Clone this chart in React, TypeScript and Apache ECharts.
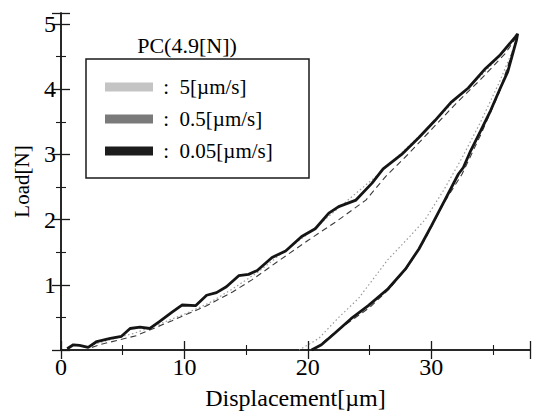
import React, { useEffect, useRef } from "react";
import * as echarts from "echarts";

const seriesNames = ["5[µm/s]", "0.5[µm/s]", "0.05[µm/s]"];
const legendTitle = "PC(4.9[N])";
const xName = "Displacement[µm]";
const yName = "Load[N]";

// 5 µm/s (dotted, light grey): loading then unloading
const fastCurve: [number, number][] = [
  [2.0, 0.05], [4.0, 0.16], [6.0, 0.26], [8.0, 0.4], [10.0, 0.55], [12.0, 0.72],
  [14.0, 0.95], [16.0, 1.2], [18.0, 1.5], [20.0, 1.78], [22.0, 2.1], [24.0, 2.42],
  [26.0, 2.74], [28.0, 3.1], [30.0, 3.45], [32.0, 3.85], [34.0, 4.2], [36.0, 4.6],
  [37.0, 4.85],
  [36.6, 4.6], [35.5, 4.1], [34.0, 3.5], [32.5, 2.95], [31.0, 2.45], [29.5, 2.0],
  [28.3, 1.75], [26.5, 1.39], [24.1, 0.79], [22.5, 0.5], [20.9, 0.18], [19.3, 0.0],
];

// 0.5 µm/s (dashed, dark grey)
const midCurve: [number, number][] = [
  [2.5, 0.04], [3.1, 0.08], [6.1, 0.22], [9.0, 0.45], [11.8, 0.68], [13.9, 0.89],
  [15.5, 1.08], [17.5, 1.35], [20.0, 1.68], [22.3, 1.97], [24.7, 2.3], [26.3, 2.66],
  [28.0, 2.98], [30.0, 3.38], [32.0, 3.78], [34.0, 4.15], [36.0, 4.55], [36.9, 4.8],
  [36.8, 4.7], [35.5, 3.95], [34.0, 3.3], [32.5, 2.7], [31.0, 2.25], [29.5, 1.7],
  [28.0, 1.25], [26.5, 0.92], [25.0, 0.65], [23.5, 0.45], [22.0, 0.24], [20.8, 0.05],
  [20.3, 0.0],
];

// 0.05 µm/s (solid, black)
const slowCurve: [number, number][] = [
  [0.5, 0.02], [1.0, 0.08], [1.5, 0.07], [2.2, 0.04], [2.9, 0.13], [4.0, 0.18],
  [4.9, 0.21], [5.6, 0.33], [6.4, 0.35], [7.2, 0.33], [8.0, 0.44], [9.0, 0.58],
  [9.8, 0.69], [10.9, 0.68], [11.8, 0.84], [12.6, 0.88], [13.4, 0.97], [14.4, 1.14],
  [15.2, 1.16], [15.9, 1.22], [17.1, 1.42], [18.2, 1.52], [19.5, 1.74], [20.6, 1.86],
  [21.7, 2.1], [22.5, 2.2], [23.9, 2.3], [25.2, 2.56], [26.1, 2.78], [27.6, 3.0],
  [29.0, 3.26], [30.3, 3.52], [31.6, 3.8], [33.0, 4.02], [34.4, 4.32], [35.6, 4.53],
  [36.8, 4.8], [37.0, 4.85],
  [36.9, 4.75], [36.2, 4.27], [35.6, 4.02], [34.8, 3.67], [34.0, 3.36], [33.2, 3.06],
  [32.6, 2.8], [32.2, 2.7], [31.1, 2.3], [30.0, 1.9], [29.0, 1.55], [27.9, 1.24],
  [26.5, 0.94], [24.9, 0.68], [23.5, 0.48], [22.2, 0.26], [21.1, 0.08], [20.3, 0.0],
];

const FONT = "Liberation Serif, Times New Roman, serif";

export default function App() {
  const ref = useRef<HTMLDivElement>(null);
  useEffect(() => {
    if (!ref.current) return;
    const chart = echarts.init(ref.current, undefined, { renderer: "svg" });
    const axisLine = { show: true, lineStyle: { color: "#1a1a1a", width: 1.5 } };
    const tick = { show: true, inside: true, length: 9, lineStyle: { color: "#1a1a1a", width: 1.3 } };
    const minor = { show: true, splitNumber: 2, length: 5, lineStyle: { color: "#1a1a1a", width: 1.1 } };
    const xBase = { type: "value", min: 0, max: 38, interval: 10, splitLine: { show: false }, axisLine, axisTick: tick, minorTick: minor };
    const yBase = { type: "value", min: 0, max: 5.17, interval: 1, splitLine: { show: false }, axisLine, axisTick: tick, minorTick: minor };
    chart.setOption({
      animation: false,
      backgroundColor: "#ffffff",
      textStyle: { fontFamily: FONT },
      grid: { left: 61, right: 1, top: 13, bottom: 63, containLabel: false },
      xAxis: [
        {
          ...xBase,
          position: "bottom",
          name: xName,
          nameLocation: "middle",
          nameGap: 36,
          nameTextStyle: { fontFamily: FONT, fontSize: 24, color: "#000" },
          axisLabel: {
            fontFamily: FONT, fontSize: 24, color: "#000", margin: 5,
            formatter: (v: number) => (v % 10 === 0 ? String(v) : ""),
          },
        },
        { ...xBase, position: "top", axisLabel: { show: false } },
      ],
      yAxis: [
        {
          ...yBase,
          position: "left",
          name: yName,
          nameLocation: "middle",
          nameGap: 29,
          nameTextStyle: { fontFamily: FONT, fontSize: 21, color: "#000" },
          axisLabel: {
            fontFamily: FONT, fontSize: 24, color: "#000", margin: 5,
            formatter: (v: number) => (Number.isInteger(v) && v > 0 ? String(v) : ""),
          },
        },
        { ...yBase, position: "right", axisLabel: { show: false } },
      ],
      legend: {
        orient: "vertical",
        left: 100,
        top: 70,
        itemWidth: 48,
        itemHeight: 9,
        itemGap: 8,
        icon: "rect",
        itemStyle: { borderWidth: 0 },
        textStyle: { fontFamily: FONT, fontSize: 21, color: "#000", lineHeight: 24 },
        formatter: (name: string) => " :  " + name,
        data: [
          { name: seriesNames[0], itemStyle: { color: "#c4c4c4" } },
          { name: seriesNames[1], itemStyle: { color: "#7a7a7a" } },
          { name: seriesNames[2], itemStyle: { color: "#1c1c1c" } },
        ],
      },
      graphic: [
        {
          type: "rect",
          shape: { x: 86, y: 59, width: 223, height: 119 },
          style: { fill: "none", stroke: "#1a1a1a", lineWidth: 1.5 },
        },
        {
          type: "text",
          x: 187,
          y: 45,
          style: {
            text: legendTitle, fontFamily: FONT, fontSize: 22, fill: "#000",
            textAlign: "center", textVerticalAlign: "middle",
          },
        },
      ],
      series: [
        {
          name: seriesNames[0], type: "line", data: fastCurve, showSymbol: false, symbol: "none",
          lineStyle: { color: "#9a9a9a", width: 1.2, type: [1.5, 2.5] }, itemStyle: { color: "#c4c4c4" }, z: 2,
        },
        {
          name: seriesNames[1], type: "line", data: midCurve, showSymbol: false, symbol: "none",
          lineStyle: { color: "#3a3a3a", width: 1.1, type: [6, 4] }, itemStyle: { color: "#7a7a7a" }, z: 3,
        },
        {
          name: seriesNames[2], type: "line", data: slowCurve, showSymbol: false, symbol: "none",
          lineStyle: { color: "#151515", width: 2.8 }, itemStyle: { color: "#1c1c1c" }, z: 4,
        },
      ],
    });
    return () => chart.dispose();
  }, []);
  return <div ref={ref} style={{ width: 533, height: 415, position: "absolute", left: 0, top: 0 }} />;
}
